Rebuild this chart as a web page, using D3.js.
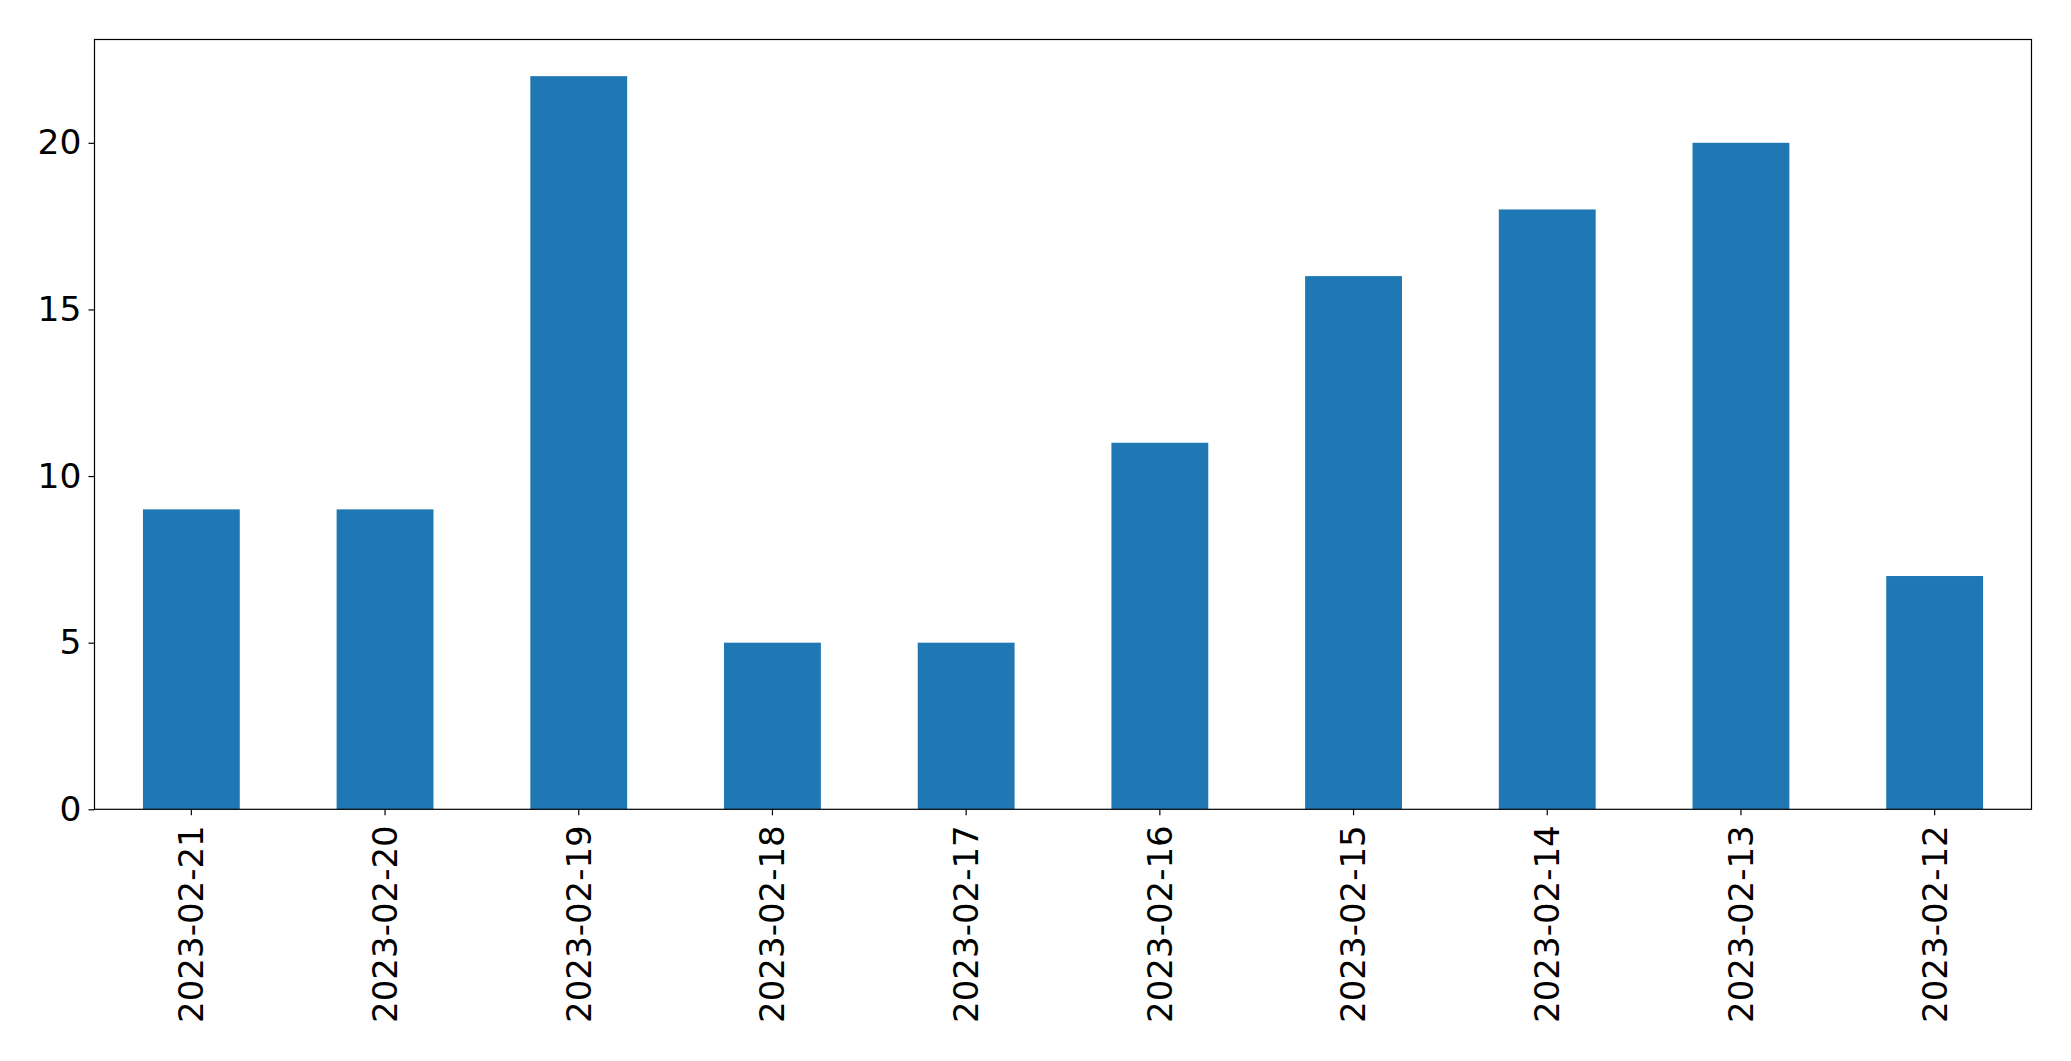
<!DOCTYPE html>
<html><head><meta charset="utf-8">
<script src="https://cdn.jsdelivr.net/npm/d3@7"></script>
<style>body{margin:0;background:#fff;} svg{display:block;} text{font-family:"DejaVu Sans";}</style>
</head><body>
<svg id="c" width="2071" height="1061"></svg>
<script>
const categories = ["2023-02-21","2023-02-20","2023-02-19","2023-02-18","2023-02-17","2023-02-16","2023-02-15","2023-02-14","2023-02-13","2023-02-12"];
const values = [9, 9, 22, 5, 5, 11, 16, 18, 20, 7];
const yTicks = [0, 5, 10, 15, 20];

const svg = d3.select("#c");
const L = 94.5, R = 2031.5, T = 39.5, B = 809.3;
const x = d3.scaleBand().domain(categories).range([L, R]).paddingInner(0.5).paddingOuter(0.25);
const y = d3.scaleLinear().domain([0, d3.max(values) * 1.05]).range([B, T]);

svg.append("g").selectAll("rect").data(values).join("rect")
  .attr("x", (d, i) => x(categories[i]))
  .attr("width", x.bandwidth())
  .attr("y", d => y(d))
  .attr("height", d => B - y(d))
  .attr("fill", "#1f77b4");

const ya = svg.append("g").attr("transform", `translate(${L},0)`)
  .call(d3.axisLeft(y).tickValues(yTicks).tickSize(6).tickPadding(7).tickFormat(d3.format("d")));
ya.select(".domain").remove();
ya.selectAll("text").attr("font-size", 34.5).attr("font-family", "DejaVu Sans").attr("fill", "#000");
ya.selectAll("line").attr("stroke", "#000").attr("stroke-width", 1.2);

const xa = svg.append("g").attr("transform", `translate(0,${B})`)
  .call(d3.axisBottom(x).tickSize(6).tickPadding(0));
xa.select(".domain").remove();
xa.selectAll("line").attr("stroke", "#000").attr("stroke-width", 1.2);
xa.selectAll("text")
  .attr("font-size", 34).attr("font-family", "DejaVu Sans").attr("fill", "#000")
  .attr("transform", "translate(0,16) rotate(-90)")
  .attr("y", 0).attr("dy", "0.35em").attr("x", 0)
  .attr("text-anchor", "end");

svg.append("rect").attr("x", L).attr("y", T).attr("width", R - L).attr("height", B - T)
  .attr("fill", "none").attr("stroke", "#000").attr("stroke-width", 1.2);
</script>
</body></html>
